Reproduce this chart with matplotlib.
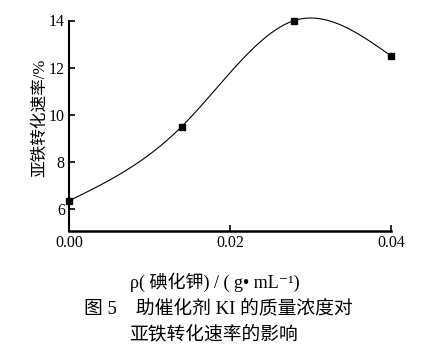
import numpy as np
import matplotlib
matplotlib.use("Agg")
import matplotlib.pyplot as plt

# Data
ki_conc = [0.0, 0.014, 0.028, 0.040]
conv_rate = [6.35, 9.5, 14.0, 12.5]
x_ticks = [0.00, 0.02, 0.04]
x_tick_labels = ["0.00", "0.02", "0.04"]
y_ticks = [6, 8, 10, 12, 14]
y_tick_labels = ["6", "8", "10", "12", "14"]

mixed = ["Liberation Serif", "Noto Sans CJK SC", "DejaVu Sans"]
serif = ["Liberation Serif", "DejaVu Serif"]


def natural_spline(x, y, xs):
    x = np.asarray(x, float)
    y = np.asarray(y, float)
    n = len(x)
    h = np.diff(x)
    A = np.zeros((n, n))
    b = np.zeros(n)
    A[0, 0] = 1
    A[-1, -1] = 1
    for i in range(1, n - 1):
        A[i, i - 1] = h[i - 1]
        A[i, i] = 2 * (h[i - 1] + h[i])
        A[i, i + 1] = h[i]
        b[i] = 6 * ((y[i + 1] - y[i]) / h[i] - (y[i] - y[i - 1]) / h[i - 1])
    M = np.linalg.solve(A, b)
    out = np.empty_like(xs)
    for k, t in enumerate(xs):
        i = min(max(np.searchsorted(x, t) - 1, 0), n - 2)
        a, c = x[i], x[i + 1]
        hi = h[i]
        out[k] = (M[i] * (c - t) ** 3 / (6 * hi) + M[i + 1] * (t - a) ** 3 / (6 * hi)
                  + (y[i] / hi - M[i] * hi / 6) * (c - t)
                  + (y[i + 1] / hi - M[i + 1] * hi / 6) * (t - a))
    return out


fig = plt.figure(figsize=(4.21, 3.51), dpi=100)
ax = fig.add_axes([69/421, 1-231/351, (391-69)/421, (231-20.5)/351])

xs = np.linspace(min(ki_conc), max(ki_conc), 300)
ax.plot(xs, natural_spline(ki_conc, conv_rate, xs), color="black", lw=0.8, clip_on=False)
ax.plot(ki_conc, conv_rate, linestyle="none", marker="s", ms=4.5, color="black", clip_on=False)

ax.set_xlim(0, 0.04)
ax.set_ylim(5.07, 14)
ax.spines["top"].set_visible(False)
ax.spines["right"].set_visible(False)
ax.spines["left"].set_linewidth(1.5)
ax.spines["bottom"].set_linewidth(1.8)
ax.set_xticks(x_ticks)
ax.set_xticklabels(x_tick_labels, fontfamily=serif, fontsize=11.5)
ax.set_yticks(y_ticks)
ax.set_yticklabels(y_tick_labels, fontfamily=serif, fontsize=11.5)
ax.tick_params(direction="in", length=4, width=1.2, pad=3)

fig.text(40/421, 1-118/351, "亚铁转化速率/%", rotation=90, ha="center", va="center",
         fontfamily=mixed, fontsize=12)
fig.text(215/421, 1-282/351, "ρ( 碘化钾) / ( g• mL⁻¹)", ha="center", va="center",
         fontfamily=mixed, fontsize=13)
fig.text(218.5/421, 1-308/351, "图 5    助催化剂 KI 的质量浓度对", ha="center", va="center",
         fontfamily=mixed, fontsize=13.5)
fig.text(214/421, 1-334/351, "亚铁转化速率的影响", ha="center", va="center",
         fontfamily=mixed, fontsize=13.5)

fig.savefig("out.png", dpi=100)
